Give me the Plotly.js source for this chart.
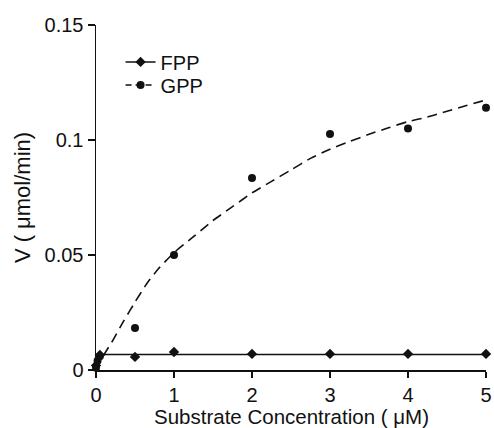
<!DOCTYPE html>
<html><head><meta charset="utf-8">
<script src="https://cdn.plot.ly/plotly-3.0.1.min.js"></script>
<style>html,body{margin:0;padding:0;background:#fff}</style>
</head><body><div id="chart" style="width:494px;height:428px"></div>
<script>
// Measured data points
const fppX = [0, 0.05, 0.5, 1, 2, 3, 4, 5];
const fppY = [0.002, 0.0065, 0.0057, 0.0078, 0.007, 0.007, 0.007, 0.007];
const gppX = [0, 0.02, 0.05, 0.5, 1, 2, 3, 4, 5];
const gppY = [0.001, 0.004, 0.006, 0.0183, 0.050, 0.0835, 0.1026, 0.105, 0.114];
// Fitted curves
const fppFitX = [0, 0.03, 0.06, 0.1, 5];
const fppFitY = [0, 0.005, 0.0063, 0.0067, 0.0067];
const gppFitX = [0, 0.1, 0.2, 0.35, 0.5, 0.65, 0.8, 1, 1.25, 1.5, 1.75, 2, 2.25, 2.5, 2.75, 3, 3.25, 3.5, 3.75, 4, 4.25, 4.5, 4.75, 5];
const gppFitY = [0, 0.0065, 0.012, 0.021, 0.0295, 0.0375, 0.044, 0.051, 0.058, 0.065, 0.071, 0.077, 0.082, 0.087, 0.092, 0.096, 0.0993, 0.1025, 0.1053, 0.108, 0.110, 0.1125, 0.115, 0.1174];
const yTicks = [0, 0.05, 0.1, 0.15];
const yTickText = ['0', '0.05', '0.1', '0.15'];
const xTicks = [0, 1, 2, 3, 4, 5];
const xTitle = 'Substrate Concentration ( μM)';
const yTitle = 'V ( μmol/min)';

const FONT = 'Liberation Sans, Arial, Helvetica, sans-serif';
const traces = [
  {x: fppFitX, y: fppFitY, mode: 'lines', line: {color: '#111', width: 1.5}, showlegend: false, hoverinfo: 'skip'},
  {x: gppFitX, y: gppFitY, mode: 'lines', line: {color: '#111', width: 1.6, dash: '10px,6px', shape: 'spline', smoothing: 0.6}, showlegend: false, hoverinfo: 'skip'},
  {x: fppX, y: fppY, mode: 'markers', marker: {symbol: 'diamond', size: 8, color: '#111'}, showlegend: false, cliponaxis: false},
  {x: gppX, y: gppY, mode: 'markers', marker: {symbol: 'circle', size: 8, color: '#111'}, showlegend: false, cliponaxis: false},
  {x: [null], y: [null], name: 'FPP', legend: 'legend', mode: 'lines+markers', line: {color: '#111', width: 1.5}, marker: {symbol: 'diamond', size: 8, color: '#111'}},
  {x: [null], y: [null], name: 'GPP', legend: 'legend2', mode: 'lines+markers', line: {color: '#111', width: 1.5, dash: '6px,4px'}, marker: {symbol: 'circle', size: 8, color: '#111'}}
];
const legBase = {xanchor: 'left', yanchor: 'middle', bgcolor: 'rgba(0,0,0,0)', font: {size: 20}, itemwidth: 30, borderwidth: 0};
const layout = {
  width: 494, height: 428,
  margin: {l: 96, r: 8, t: 25, b: 58},
  paper_bgcolor: '#fff', plot_bgcolor: '#fff',
  font: {family: FONT, color: '#111', size: 20},
  showlegend: true,
  legend: Object.assign({}, legBase, {x: 0.063, y: 0.893}),
  legend2: Object.assign({}, legBase, {x: 0.063, y: 0.826}),
  xaxis: {range: [0, 5], tickvals: xTicks, ticks: 'outside', ticklen: 6, tickwidth: 1.5, tickcolor: '#111',
          showline: true, linecolor: '#111', linewidth: 1.5, showgrid: false, zeroline: false},
  yaxis: {range: [0, 0.15], tickvals: yTicks, ticktext: yTickText, ticks: 'outside', ticklen: 7, tickwidth: 1.5, tickcolor: '#111',
          showline: true, linecolor: '#111', linewidth: 1.5, showgrid: false, zeroline: false,
          title: {text: yTitle, font: {size: 22}, standoff: 8}},
  annotations: [{text: xTitle, xref: 'paper', yref: 'paper', x: 0.5, y: -0.136, xanchor: 'center', yanchor: 'middle',
                 showarrow: false, font: {size: 20.5}}]
};
Plotly.newPlot('chart', traces, layout, {displayModeBar: false, staticPlot: true});
</script></body></html>
